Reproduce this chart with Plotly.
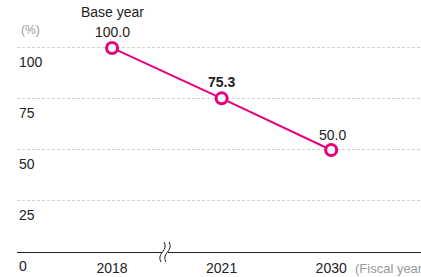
import plotly.graph_objects as go

years = ["2018", "2021", "2030"]
values = [100.0, 75.3, 50.0]
value_labels = ["100.0", "75.3", "50.0"]
y_ticks = [0, 25, 50, 75, 100]
y_tick_labels = ["0", "25", "50", "75", "100"]

MAG = "#E4007F"
FONT = "Liberation Sans, Arial, sans-serif"
TXT = "#222"
xs = list(range(len(years)))

fig = go.Figure()
fig.add_trace(go.Scatter(
    x=xs, y=values, mode="lines+markers",
    line=dict(color=MAG, width=2),
    marker=dict(size=11, color="white", line=dict(color=MAG, width=3)),
    hoverinfo="skip", showlegend=False,
))

# value labels
for i, (v, t) in enumerate(zip(values, value_labels)):
    bold = (i == 1)
    fig.add_annotation(x=xs[i], y=v, text=f"<b>{t}</b>" if bold else t,
                       showarrow=False, yshift=16 if i < 2 else 15, xshift=1 if i == 2 else 0,
                       font=dict(size=14, color=TXT, family=FONT))
fig.add_annotation(x=xs[0], y=values[0], text="Base year", showarrow=False, yshift=36,
                   font=dict(size=14, color=TXT, family=FONT))

# y tick labels below gridlines
for v, t in zip(y_ticks, y_tick_labels):
    fig.add_annotation(xref="paper", yref="y", x=0, y=v, text=t, showarrow=False,
                       xanchor="left", yanchor="top", yshift=-4,
                       font=dict(size=14, color=TXT, family=FONT))

fig.add_annotation(xref="paper", yref="y", x=0.005, y=values[0], text="(%)",
                   showarrow=False, xanchor="left", yshift=18,
                   font=dict(size=12, color="#999", family=FONT))
fig.add_annotation(xref="x", yref="paper", x=2, y=0, text="(Fiscal year)",
                   showarrow=False, xanchor="left", yanchor="top", xshift=22, yshift=-7,
                   font=dict(size=13, color="#999", family=FONT))

# axis break marks (paper coords; plot area 404x252 px)
W, H = 404.0, 252.0
def px(x):
    return (x - 17) / W
def py(y):
    return (252 - y) / H

fig.add_shape(type="rect", xref="paper", yref="paper", x0=px(162), x1=px(168),
              y0=py(254), y1=py(250), fillcolor="white", line=dict(width=0), layer="above")
for cx in (162.5, 167.5):
    path = (f"M {px(cx+1.5)},{py(242)} Q {px(cx+4.5)},{py(247)} {px(cx)},{py(252)} "
            f"Q {px(cx-4.5)},{py(257)} {px(cx-1.5)},{py(262)}")
    fig.add_shape(type="path", xref="paper", yref="paper", path=path,
                  line=dict(color="#222", width=1), layer="above")

fig.update_xaxes(
    tickmode="array", tickvals=xs, ticktext=years, automargin=False,
    range=[-0.868, 2.82], showgrid=False, zeroline=False, showline=False,
    ticks="", ticklabelstandoff=6, tickfont=dict(size=14, color=TXT, family=FONT),
)
fig.update_yaxes(
    range=[0, 123.5], tickmode="array", tickvals=y_ticks, showticklabels=False,
    automargin=False, showgrid=True, gridcolor="#d0d0d0",
    griddash="3px,2px", gridwidth=1, zeroline=True, zerolinecolor="#222", zerolinewidth=1.3,
    showline=False, ticks="",
)
fig.update_layout(
    width=421, height=277, margin=dict(l=17, r=0, t=0, b=25),
    plot_bgcolor="white", paper_bgcolor="white",
)
fig.write_html("out.html", config={"displayModeBar": False},
               post_script="document.body.style.margin='0';")
